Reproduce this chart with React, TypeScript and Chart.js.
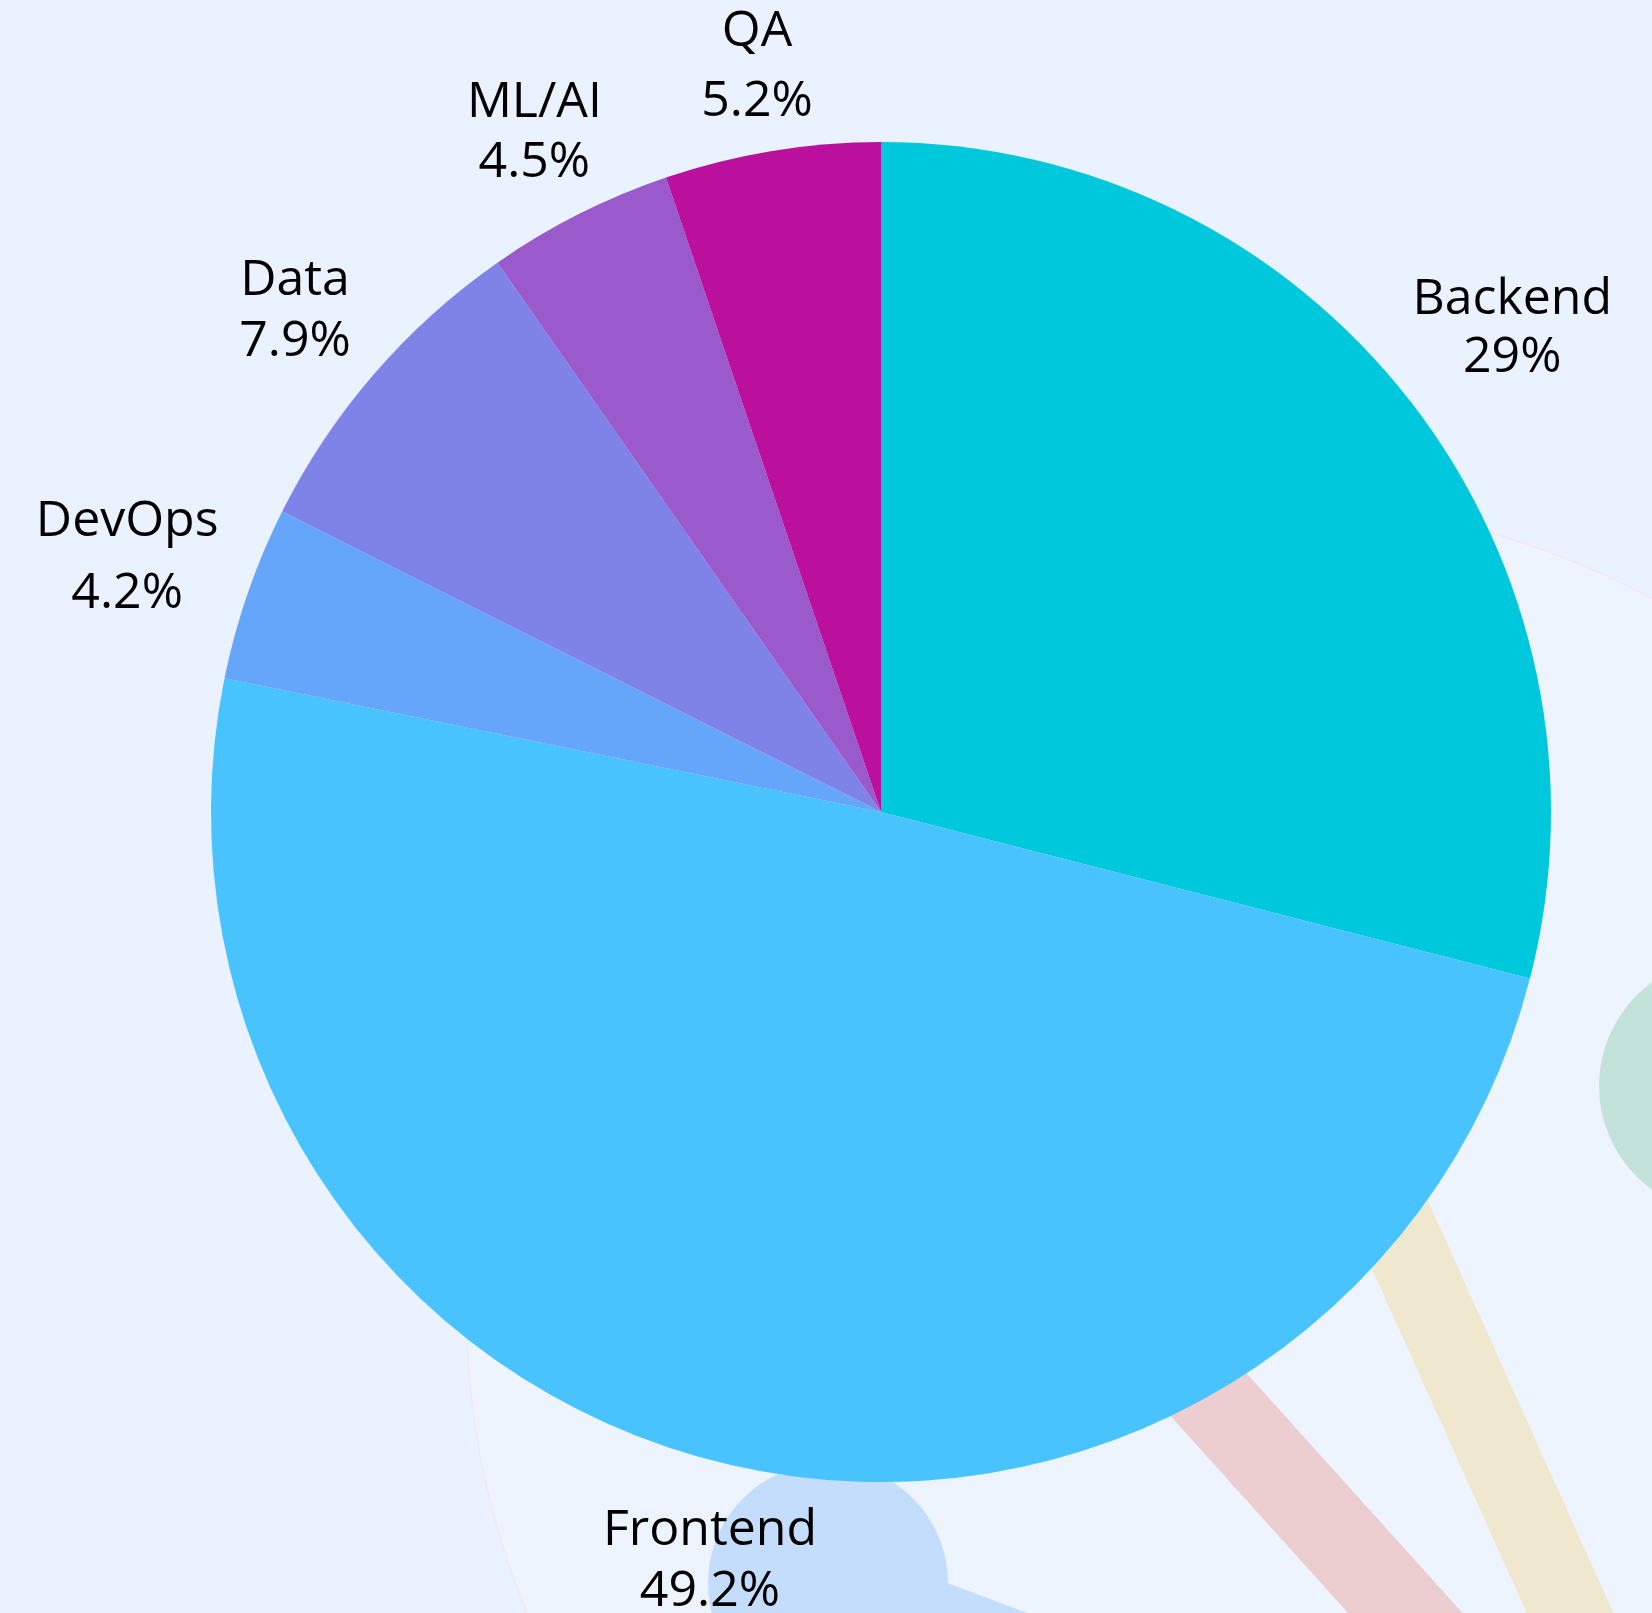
import React, { useEffect, useRef } from 'react';
import { Chart, registerables } from 'chart.js';

Chart.register(...registerables);

const categories = ['Backend', 'Frontend', 'DevOps', 'Data', 'ML/AI', 'QA'];
const shares = [29, 49.2, 4.2, 7.9, 4.5, 5.2];
const sliceColors = ['#00C8DC', '#48C3FE', '#66A6FA', '#7F82E7', '#9A5ACB', '#BA109D'];
// spacing (px) between the name line and the percentage line of each label
const labelLineGaps = [58, 61, 72, 61, 60, 70];

const W = 1652;
const H = 1613;

function fmtPct(p: number): string {
  return String(Number(p.toFixed(1)));
}

const backdropPlugin = {
  id: 'backdrop',
  beforeDraw(chart: any) {
    const ctx = chart.ctx as CanvasRenderingContext2D;
    ctx.save();
    ctx.fillStyle = '#E9F2FE';
    ctx.fillRect(0, 0, chart.width, chart.height);

    ctx.beginPath();
    ctx.arc(1270, 1306, 804, 0, Math.PI * 2);
    ctx.fillStyle = '#EEF4FE';
    ctx.fill();
    ctx.lineWidth = 1;
    ctx.strokeStyle = '#F3E6F0';
    ctx.stroke();

    const band = (x1: number, y1: number, x2: number, y2: number, w: number, color: string) => {
      ctx.beginPath();
      ctx.moveTo(x1, y1);
      ctx.lineTo(x2, y2);
      ctx.lineWidth = w;
      ctx.lineCap = 'butt';
      ctx.strokeStyle = color;
      ctx.stroke();
    };
    band(1324, 1066, 1611, 1704, 79, '#EFE8CF');
    band(1070, 1241, 1472, 1687, 85, '#ECCDD0');
    band(828, 1583, 1390, 1794, 84, '#C5DDFC');

    ctx.beginPath();
    ctx.arc(828, 1583, 120, 0, Math.PI * 2);
    ctx.fillStyle = '#C5DDFC';
    ctx.fill();

    ctx.beginPath();
    ctx.arc(1727, 1086, 128, 0, Math.PI * 2);
    ctx.fillStyle = '#C3E2D9';
    ctx.fill();
    ctx.restore();
  },
};

const labelPlugin = {
  id: 'sliceLabels',
  afterDatasetsDraw(chart: any) {
    const ctx = chart.ctx as CanvasRenderingContext2D;
    const meta = chart.getDatasetMeta(0);
    const data = chart.data.datasets[0].data as number[];
    const total = data.reduce((a, b) => a + b, 0);
    const fontSize = 50;
    const lineBox = 60;
    const capHalf = fontSize * 0.357 + 3;
    const offset = 31;
    ctx.save();
    ctx.font = `${fontSize}px "Open Sans", "Noto Sans", sans-serif`;
    ctx.fillStyle = '#000000';
    ctx.textAlign = 'center';
    ctx.textBaseline = 'alphabetic';
    meta.data.forEach((arc: any, i: number) => {
      const p = arc.getProps(['x', 'y', 'startAngle', 'endAngle', 'outerRadius'], true);
      const a = (p.startAngle + p.endAngle) / 2;
      const vx = Math.cos(a);
      const vy = Math.sin(a);
      const lines = [String(chart.data.labels[i]), fmtPct((data[i] / total) * 100) + '%'];
      const w = Math.max(...lines.map((l) => ctx.measureText(l).width));
      const h = lines.length * lineBox;
      const ex = Math.abs(vx) > 1e-6 ? w / 2 / Math.abs(vx) : Infinity;
      const ey = Math.abs(vy) > 1e-6 ? h / 2 / Math.abs(vy) : Infinity;
      const R = p.outerRadius + offset + Math.min(ex, ey);
      const cx = p.x + vx * R;
      const cy = p.y + vy * R;
      const gap = labelLineGaps[i];
      lines.forEach((l, k) => {
        ctx.fillText(l, cx, cy + (k - (lines.length - 1) / 2) * gap + capHalf);
      });
    });
    ctx.restore();
  },
};

export default function App() {
  const ref = useRef<HTMLCanvasElement | null>(null);
  useEffect(() => {
    if (!ref.current) return;
    const chart = new Chart(ref.current, {
      type: 'pie',
      data: {
        labels: categories,
        datasets: [
          {
            data: shares,
            backgroundColor: sliceColors,
            borderWidth: 0,
          },
        ],
      },
      options: {
        responsive: false,
        animation: false,
        layout: { padding: { left: 211, right: 101, top: 142, bottom: 131 } },
        plugins: {
          legend: { display: false },
          tooltip: { enabled: false },
        },
      },
      plugins: [backdropPlugin, labelPlugin],
    });
    return () => chart.destroy();
  }, []);
  return (
    <div style={{ position: 'fixed', left: 0, top: 0, width: W, height: H }}>
      <canvas ref={ref} width={W} height={H} style={{ display: 'block', width: W, height: H }} />
    </div>
  );
}
